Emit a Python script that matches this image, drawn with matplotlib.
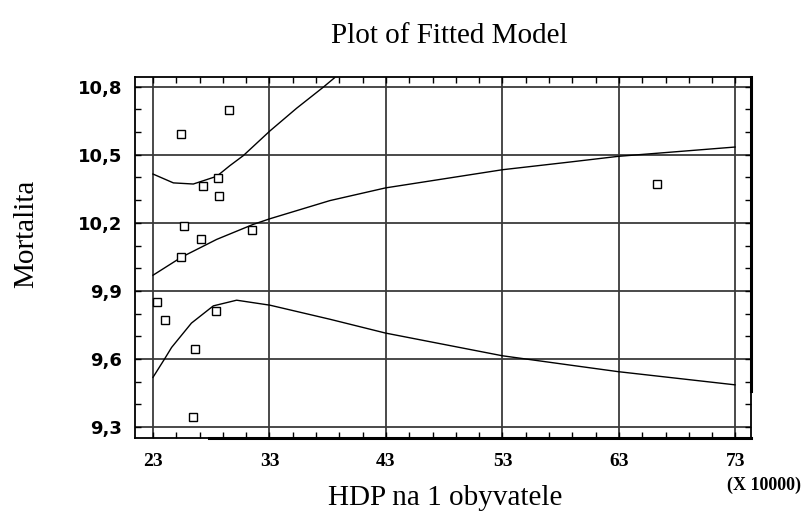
import matplotlib
matplotlib.use("Agg")
import matplotlib.pyplot as plt
from matplotlib.ticker import FixedLocator
import numpy as np

# ── Data ──────────────────────────────────────────────────────────────────────
# observed points: HDP na 1 obyvatele (x 10000) vs Mortalita
hdp = [29.5, 25.4, 28.55, 27.3, 28.66, 25.66, 27.1, 31.53, 25.43,
       23.37, 24.0, 28.4, 26.6, 26.46, 66.26]
mort = [10.696, 10.591, 10.398, 10.361, 10.317, 10.188, 10.13, 10.168, 10.049,
        9.853, 9.773, 9.811, 9.645, 9.345, 10.371]

# fitted model line
fit_x = [23.0, 25.46, 28.47, 31.6, 33.04, 38.19, 42.97, 53.0, 58.8, 62.94, 72.96]
fit_y = [9.969, 10.049, 10.127, 10.193, 10.218, 10.298, 10.354, 10.434, 10.468,
         10.493, 10.534]

# upper limit (runs off the top of the plot)
up_x = [23.0, 24.75, 26.46, 28.47, 29.6, 30.75, 33.04, 35.33, 37.6, 38.6]
up_y = [10.415, 10.376, 10.371, 10.405, 10.452, 10.496, 10.605, 10.705, 10.797,
        10.84]

# lower limit
lo_x = [23.0, 24.03, 24.6, 26.3, 28.18, 30.18, 33.04, 38.19, 42.97, 53.0,
        58.8, 62.94, 72.96]
lo_y = [9.519, 9.603, 9.651, 9.758, 9.834, 9.859, 9.837, 9.775, 9.714, 9.614,
        9.573, 9.544, 9.486]

x_ticks = [23, 33, 43, 53, 63, 73]
y_ticks = [9.3, 9.6, 9.9, 10.2, 10.5, 10.8]

# ── Plot ──────────────────────────────────────────────────────────────────────
fig = plt.figure(figsize=(8.03, 5.2), dpi=100)
ax = fig.add_axes([0.1681, 0.1577, 0.7671, 0.6942])

ax.plot(fit_x, fit_y, color="black", lw=1.0, zorder=3)
ax.plot(up_x, up_y, color="black", lw=1.0, zorder=3)
ax.plot(lo_x, lo_y, color="black", lw=1.0, zorder=3)
ax.plot(hdp, mort, linestyle="none", marker="s", markersize=5.5,
        markerfacecolor="white", markeredgecolor="black", markeredgewidth=1.0,
        zorder=4)

ax.set_xlim(21.455, 74.33)
ax.set_ylim(9.2517, 10.8426)

ax.xaxis.set_major_locator(FixedLocator(x_ticks))
ax.yaxis.set_major_locator(FixedLocator(y_ticks))
ax.xaxis.set_minor_locator(FixedLocator(np.arange(23, 75, 2)))
ax.yaxis.set_minor_locator(FixedLocator(np.arange(9.3, 10.85, 0.1)))

ax.set_xticklabels([str(t) for t in x_ticks], fontfamily="Liberation Serif",
                   fontweight="bold", fontsize=14)
ax.set_yticklabels([f"{t:.1f}".replace(".", ",") for t in y_ticks],
                   fontfamily="DejaVu Sans", fontweight="bold", fontsize=13)

ax.tick_params(which="both", direction="in", top=True, right=True,
               color="black", width=1.0)
ax.tick_params(which="major", length=4)
ax.tick_params(which="minor", length=4)
ax.tick_params(axis="y", which="major", pad=9)
ax.tick_params(axis="x", which="major", pad=11)

ax.grid(True, which="major", color="#3a3a3a", lw=1.3, zorder=1)
for s in ax.spines.values():
    s.set_linewidth(1.3)

# heavier frame segments as in the original screenshot
ax.plot([0.12, 1.0], [0, 0], transform=ax.transAxes, color="black", lw=2.2,
        clip_on=False, zorder=5)
ax.plot([1.0, 1.0], [0.13, 1.0], transform=ax.transAxes, color="black", lw=2.2,
        clip_on=False, zorder=5)

fig.text(0.56, 0.93, "Plot of Fitted Model", ha="center", va="center",
         fontfamily="Liberation Serif", fontsize=21)
fig.text(0.555, 0.043, "HDP na 1 obyvatele", ha="center", va="center",
         fontfamily="Liberation Serif", fontsize=21)
fig.text(0.032, 0.55, "Mortalita", ha="center", va="center", rotation=90,
         fontfamily="Liberation Serif", fontsize=21)
fig.text(0.997, 0.066, "(X 10000)", ha="right", va="center",
         fontfamily="Liberation Serif", fontweight="bold", fontsize=13)

fig.savefig("out.png", dpi=100)
